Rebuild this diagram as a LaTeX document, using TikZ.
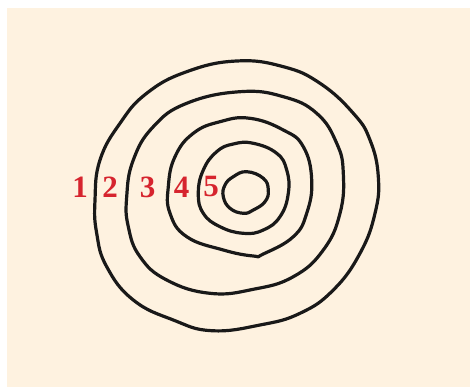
\documentclass[tikz,border=0pt]{standalone}
\usepackage{fontspec}
\setmainfont{Liberation Serif}
\definecolor{cream}{RGB}{254,242,224}
\definecolor{numred}{RGB}{214,36,46}
\begin{document}
\begin{tikzpicture}[x=1pt,y=-1pt,
  ring/.style={draw=black!90,line width=3.2pt,line join=round},
  num/.style={text=numred,font=\bfseries\fontsize{31}{31}\selectfont,inner sep=0pt}]
\useasboundingbox (0,0) rectangle (470,387);
\fill[white] (0,0) rectangle (470,387);
\fill[cream] (7,8) rectangle (470,387);
% ring 1
\draw[ring] plot[smooth cycle,tension=0.75] coordinates {
 (236.7,61) (283.3,66.7) (320,83.3) (353.3,113.3) (370,140) (378.3,176.7) (375,213.3) (360,253.3) (333.3,290) (300,313.3) (260,325) (211.7,330.7) (173.3,320) (133.3,300) (106.7,266.7) (96.7,233.3) (95,200) (100,160) (120,123.3) (146.7,93.3) (186.7,71.7)};
% ring 2
\draw[ring] plot[smooth cycle,tension=0.75] coordinates {
 (240,91.7) (283.3,96.7) (316.7,113.3) (336.7,143.3) (343.3,173.3) (340,213.3) (323.3,250) (293.3,276.7) (253.3,289.3) (210,293.3) (166.7,280) (140,256.7) (128.3,226.7) (126.7,196.7) (133.3,160) (153.3,126.7) (186.7,103.3)};
% ring 3
\draw[ring] plot[smooth cycle,tension=0.75] coordinates {
 (250,118.3) (283.3,130) (303.3,146.7) (311.7,180) (306.7,213.3) (293.3,236.7) (263.3,254) (253.3,256) (223.3,250) (186.7,236.7) (170,213.3) (168.3,186.7) (175,156.7) (193.3,133.3) (220,121.7)};
% ring 4
\draw[ring] plot[smooth cycle,tension=0.75] coordinates {
 (253.3,143.3) (276.7,153.3) (286.7,170) (288.3,193.3) (280,216.7) (263.3,230) (243.3,233.3) (220,226.7) (203.3,213.3) (198.3,193.3) (203.3,170) (216.7,151.7) (233.3,144)};
% ring 5
\draw[ring] plot[smooth cycle,tension=0.75] coordinates {
 (246.7,171.7) (263.3,178.3) (268.3,190) (265,201.7) (253.3,210) (243.3,213.3) (230,208.3) (223.3,196.7) (225,185) (233.3,176.7)};
\node[num] (n1) at (80,187) {1};
\node[num] (n2) at (110,187) {2};
\node[num] (n3) at (147.5,187) {3};
\node[num] (n4) at (181.5,187) {4};
\node[num] (n5) at (211,187) {5};
\end{tikzpicture}
\end{document}
